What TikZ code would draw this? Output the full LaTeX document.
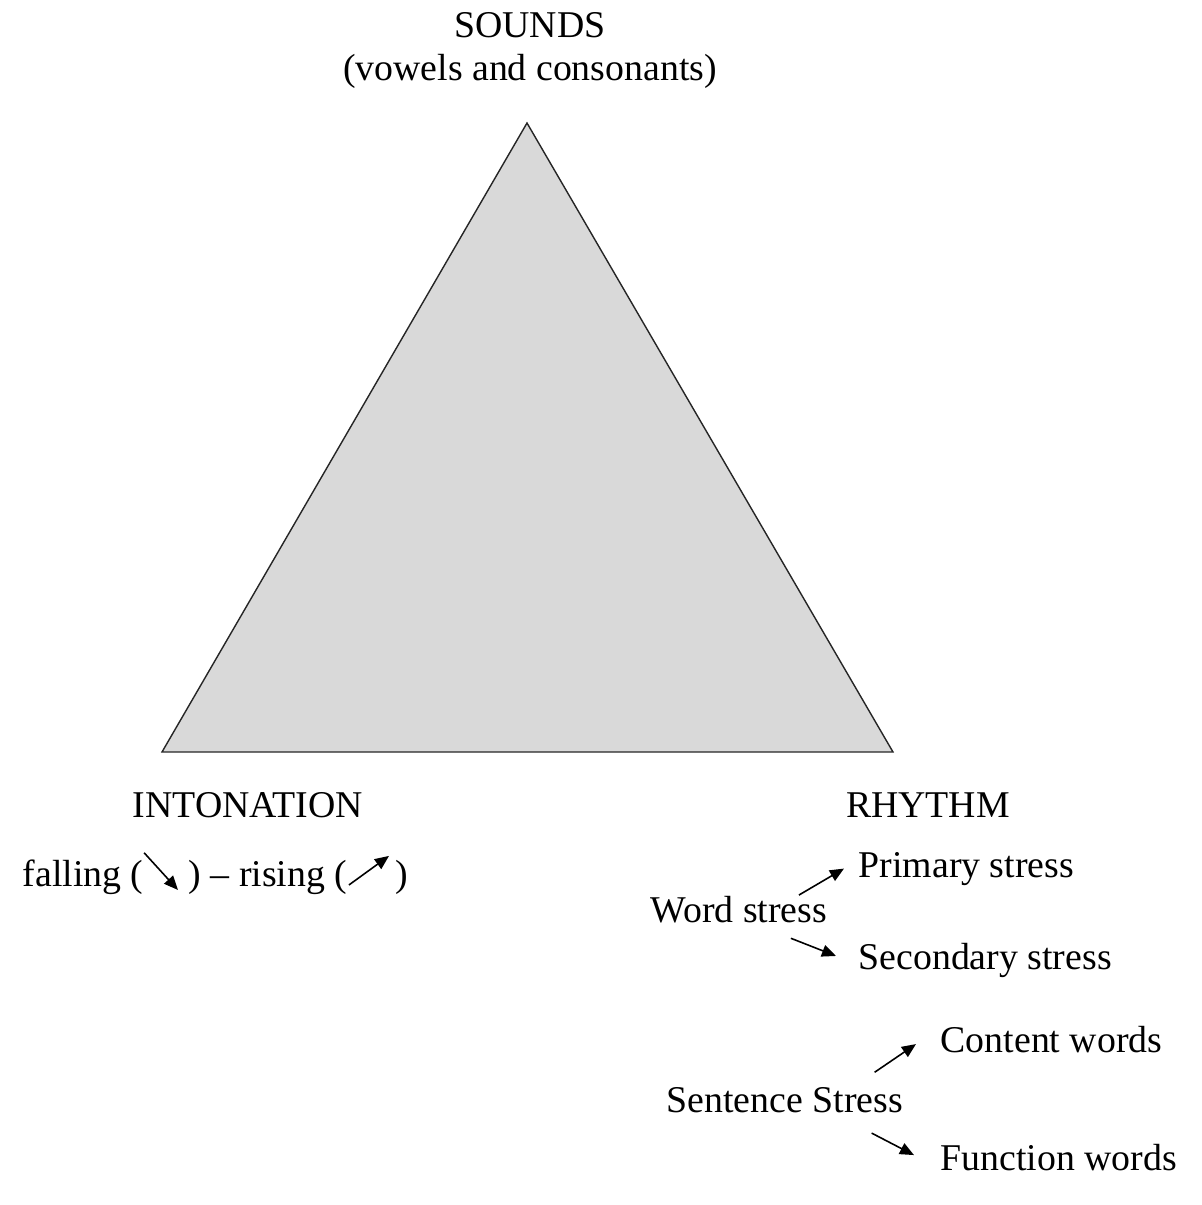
\documentclass[tikz,border=0pt]{standalone}
\usepackage{fontspec}
\setmainfont{Liberation Serif}
\usetikzlibrary{arrows.meta,calc}
\definecolor{trigray}{RGB}{217,217,217}

\begin{document}
\begin{tikzpicture}[
  x=0.01cm, y=-0.01cm,
  every node/.style={inner sep=0pt, font=\fontsize{10.75}{13}\selectfont},
  lbl/.style={anchor=base west},
  ttl/.style={anchor=base},
  tip/.style={-{Triangle[length=4pt,width=3.4pt]}, line width=0.45pt},
  ]
  \useasboundingbox (0,0) rectangle (1202,1205);
  \coordinate (S) at (527,123);
  \coordinate (I) at (162,752);
  \coordinate (R) at (893,752);
  \draw[fill=trigray, draw=black!85, line width=0.4pt] (S) -- (I) -- (R) -- cycle;

  \node[ttl] (sounds) at (530,37) {SOUNDS};
  \node[ttl] (vowels) at (530,80) {(vowels and consonants)};
  \node[ttl] (inton) at (248,817) {INTONATION};
  \node[ttl] (rhythm) at (928,817) {RHYTHM};

  \node[lbl] (fallL) at (22,886) {falling (};
  \node[lbl] (risL) at (188,886) {) -- rising (};
  \node[lbl] (risR) at (395,886) {)};
  \draw[tip] ($(fallL.east)+(0,-24)$) -- ($(risL.west)+(-10,13)$);
  \draw[tip] ($(risL.east)+(1,8)$) -- ($(risR.west)+(-6,-21)$);

  \node[lbl] (word) at (650,922) {Word stress};
  \node[lbl] (primary) at (858,877) {Primary stress};
  \node[lbl] (second) at (858,969) {Secondary stress};
  \draw[tip] ($(word.north east)+(-29,0)$) -- ($(primary.west)+(-14,0)$);
  \draw[tip] ($(word.south east)+(-37,15)$) -- ($(second.west)+(-22,-4)$);

  \node[lbl] (sentence) at (666,1112) {Sentence Stress};
  \node[lbl] (content) at (940,1052) {Content words};
  \node[lbl] (function) at (940,1170) {Function words};
  \draw[tip] ($(sentence.north east)+(-29,-14)$) -- ($(content.west)+(-24,5)$);
  \draw[tip] ($(sentence.south east)+(-32,20)$) -- ($(function.west)+(-26,-2)$);
  %\draw[tip] (word) -- (sentence);
\end{tikzpicture}
\end{document}
